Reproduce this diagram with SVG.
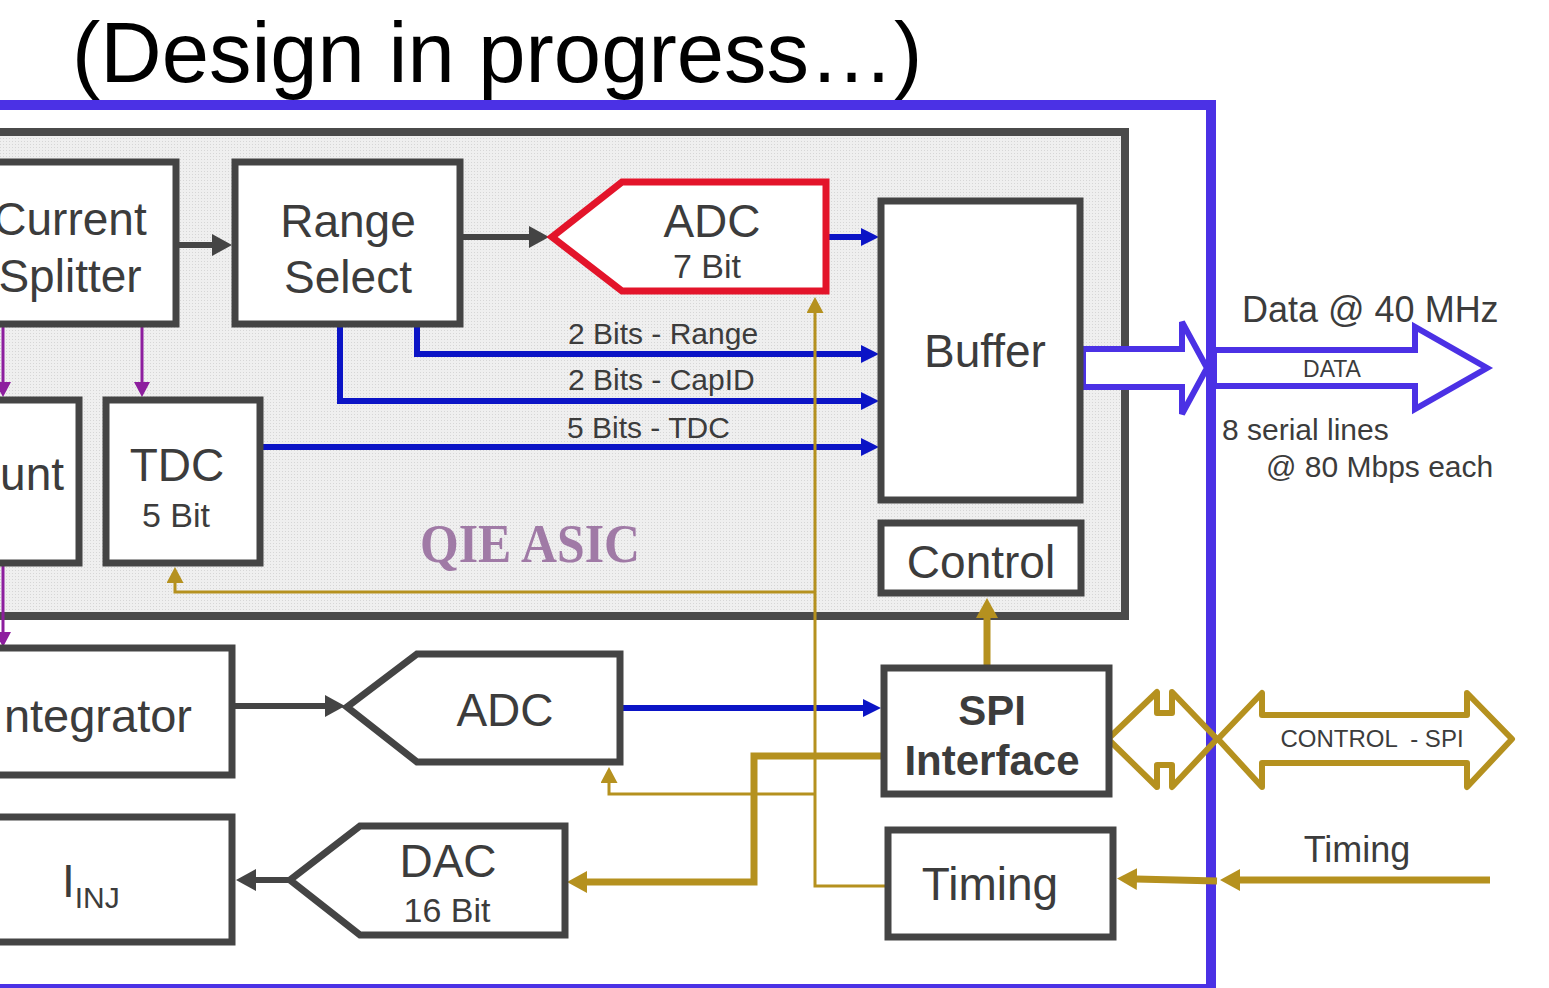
<svg xmlns="http://www.w3.org/2000/svg" width="1549" height="988" viewBox="0 0 1549 988">
<style>
.box{fill:#fff;stroke:#444;stroke-width:7}
.lbl{font-family:"Liberation Sans",Arial,sans-serif;fill:#3c3c3c;text-anchor:middle}
.big{font-size:46px}
.sub{font-size:34px}
.bit{font-family:"Liberation Sans",Arial,sans-serif;fill:#3c3c3c;font-size:30px}
.blue{fill:none;stroke:#0b14c6;stroke-width:6}
.gray{fill:none;stroke:#444;stroke-width:6}
.purp{fill:none;stroke:#8d1e9e;stroke-width:3}
.gt{fill:none;stroke:#b5911f;stroke-width:3}
.gT{fill:none;stroke:#b5911f;stroke-width:7}
</style>
<defs>
<pattern id="dots" width="3" height="3" patternUnits="userSpaceOnUse"><rect width="3" height="3" fill="#efefef"/><rect width="1" height="1" fill="#d6d6d6"/></pattern>
<marker id="ab" markerUnits="userSpaceOnUse" markerWidth="18" markerHeight="18" refX="1" refY="9" orient="auto"><path d="M0,0 L18,9 L0,18 z" fill="#0b14c6"/></marker>
<marker id="ag" markerUnits="userSpaceOnUse" markerWidth="20" markerHeight="22" refX="1" refY="11" orient="auto"><path d="M0,0 L20,11 L0,22 z" fill="#444"/></marker>
<marker id="ap" markerUnits="userSpaceOnUse" markerWidth="15" markerHeight="16" refX="1" refY="8" orient="auto"><path d="M0,0 L15,8 L0,16 z" fill="#8d1e9e"/></marker>
<marker id="ay" markerUnits="userSpaceOnUse" markerWidth="16" markerHeight="17" refX="1" refY="8.5" orient="auto"><path d="M0,0 L16,8.5 L0,17 z" fill="#b5911f"/></marker>
<marker id="aY" markerUnits="userSpaceOnUse" markerWidth="20" markerHeight="22" refX="1" refY="11" orient="auto"><path d="M0,0 L20,11 L0,22 z" fill="#b5911f"/></marker>
</defs>
<rect width="1549" height="988" fill="#fff"/>
<text x="72" y="82" font-family="Liberation Sans,Arial,sans-serif" font-size="85" fill="#000">(Design in progress…)</text>
<g id="frame"><rect x="-10" y="105" width="1221" height="884" fill="#fff" stroke="#4b31e5" stroke-width="10"/></g>
<g id="qie-asic">
<rect x="-10" y="132" width="1135" height="484" fill="url(#dots)" stroke="#4a4a4a" stroke-width="8"/>
<text x="420" y="562" font-family="Liberation Serif,serif" font-weight="bold" font-size="54" fill="#a07aa6" textLength="220" lengthAdjust="spacingAndGlyphs">QIE ASIC</text>
</g>
<g id="connectors">
<path class="gray" d="M178,245 L213,245" marker-end="url(#ag)"/>
<path class="gray" d="M462,237 L530,237" marker-end="url(#ag)"/>
<path class="gray" d="M234,706 L326,706" marker-end="url(#ag)"/>
<path class="gray" d="M290,880 L255,880" marker-end="url(#ag)"/>
<path class="blue" d="M829,237 L862,237" marker-end="url(#ab)"/>
<path class="blue" d="M417,326 L417,354 L862,354" marker-end="url(#ab)"/>
<path class="blue" d="M340,326 L340,401 L862,401" marker-end="url(#ab)"/>
<path class="blue" d="M263,447 L862,447" marker-end="url(#ab)"/>
<path class="blue" d="M623,708 L864,708" marker-end="url(#ab)"/>
<path class="purp" d="M3,326 L3,383" marker-end="url(#ap)"/>
<path class="purp" d="M142,326 L142,383" marker-end="url(#ap)"/>
<path class="purp" d="M3,565 L3,633" marker-end="url(#ap)"/>
<path class="gt" d="M887,886 L815,886 L815,312" marker-end="url(#ay)"/>
<path class="gt" d="M815,592 L175,592 L175,582" marker-end="url(#ay)"/>
<path class="gt" d="M815,794 L609,794 L609,782" marker-end="url(#ay)"/>
<path class="gT" d="M882,756 L754,756 L754,882 L586,882" marker-end="url(#aY)"/>
<path class="gT" d="M987,666 L987,617" marker-end="url(#aY)"/>
<path class="gT" d="M1490,880 L1239,880" marker-end="url(#aY)"/>
<path class="gT" d="M1217,881 L1136,879" marker-end="url(#aY)"/>
<polygon points="1083,349 1182,349 1182,322 1207,368 1182,414 1182,387 1083,387" fill="#fff" stroke="#4b31e5" stroke-width="6"/>
<polygon points="1214,350 1415,350 1415,327 1487,368 1415,409 1415,386 1214,386" fill="#fff" stroke="#4b31e5" stroke-width="6"/>
<polygon points="1108,739 1157,692 1157,713 1172,713 1172,692 1217,739 1172,787 1172,765 1157,765 1157,787" fill="none" stroke="#b5911f" stroke-width="6" stroke-linejoin="round"/>
<polygon points="1218,739 1262,693 1262,715 1467,715 1467,693 1512,739 1467,787 1467,763 1262,763 1262,787" fill="none" stroke="#b5911f" stroke-width="6" stroke-linejoin="round"/>
<text class="bit" x="568" y="344">2 Bits - Range</text>
<text class="bit" x="568" y="390">2 Bits - CapID</text>
<text class="bit" x="567" y="438">5 Bits - TDC</text>
<text class="lbl" x="1332" y="377" font-size="23">DATA</text>
<text class="lbl" x="1372" y="747" font-size="24" style="white-space:pre">CONTROL  - SPI</text>
<text class="lbl" x="1242" y="322" font-size="36" style="text-anchor:start">Data @ 40 MHz</text>
<text class="bit" x="1222" y="440">8 serial lines</text>
<text class="bit" x="1266" y="477" font-size="29">@ 80 Mbps each</text>
<text class="lbl" x="1357" y="862" font-size="36">Timing</text>
</g>
<g id="current-splitter"><rect class="box" x="-10" y="162" width="186" height="162"/><text class="lbl big" x="70" y="235">Current</text><text class="lbl big" x="70" y="292">Splitter</text></g>
<g id="range-select"><rect class="box" x="235" y="162" width="225" height="162"/><text class="lbl big" x="348" y="237">Range</text><text class="lbl big" x="348" y="293">Select</text></g>
<g id="adc-7bit"><polygon points="552,237 622,182 826,182 826,291 622,291" fill="#fff" stroke="#e3142a" stroke-width="7"/><text class="lbl big" x="712" y="237">ADC</text><text class="lbl sub" x="707" y="278">7 Bit</text></g>
<g id="buffer"><rect class="box" x="881" y="201" width="199" height="299"/><text class="lbl big" x="985" y="367">Buffer</text></g>
<g id="control"><rect class="box" x="881" y="523" width="200" height="70"/><text class="lbl big" x="981" y="578">Control</text></g>
<g id="shunt"><rect class="box" x="-10" y="400" width="89" height="163"/><text class="lbl big" x="64" y="490" style="text-anchor:end">unt</text></g>
<g id="tdc"><rect class="box" x="106" y="400" width="154" height="163"/><text class="lbl big" x="177" y="481">TDC</text><text class="lbl sub" x="176" y="527">5 Bit</text></g>
<g id="integrator"><rect class="box" x="-10" y="648" width="242" height="127"/><text class="lbl" x="192" y="732" font-size="47" style="text-anchor:end">ntegrator</text></g>
<g id="adc"><polygon points="347,707 417,654 620,654 620,762 417,762" fill="#fff" stroke="#444" stroke-width="7"/><text class="lbl big" x="505" y="726">ADC</text></g>
<g id="spi-interface"><rect class="box" x="884" y="668" width="225" height="126"/><text class="lbl" x="992" y="725" font-size="42" font-weight="bold">SPI</text><text class="lbl" x="992" y="775" font-size="42" font-weight="bold">Interface</text></g>
<g id="timing"><rect class="box" x="888" y="830" width="225" height="107"/><text class="lbl big" x="990" y="900">Timing</text></g>
<g id="iinj"><rect class="box" x="-10" y="817" width="242" height="125"/><text class="lbl big" x="62" y="897" style="text-anchor:start">I<tspan font-size="30" dy="11">INJ</tspan></text></g>
<g id="dac"><polygon points="290,880 360,826 565,826 565,935 360,935" fill="#fff" stroke="#444" stroke-width="7"/><text class="lbl big" x="448" y="877">DAC</text><text class="lbl sub" x="447" y="922">16 Bit</text></g>
</svg>
